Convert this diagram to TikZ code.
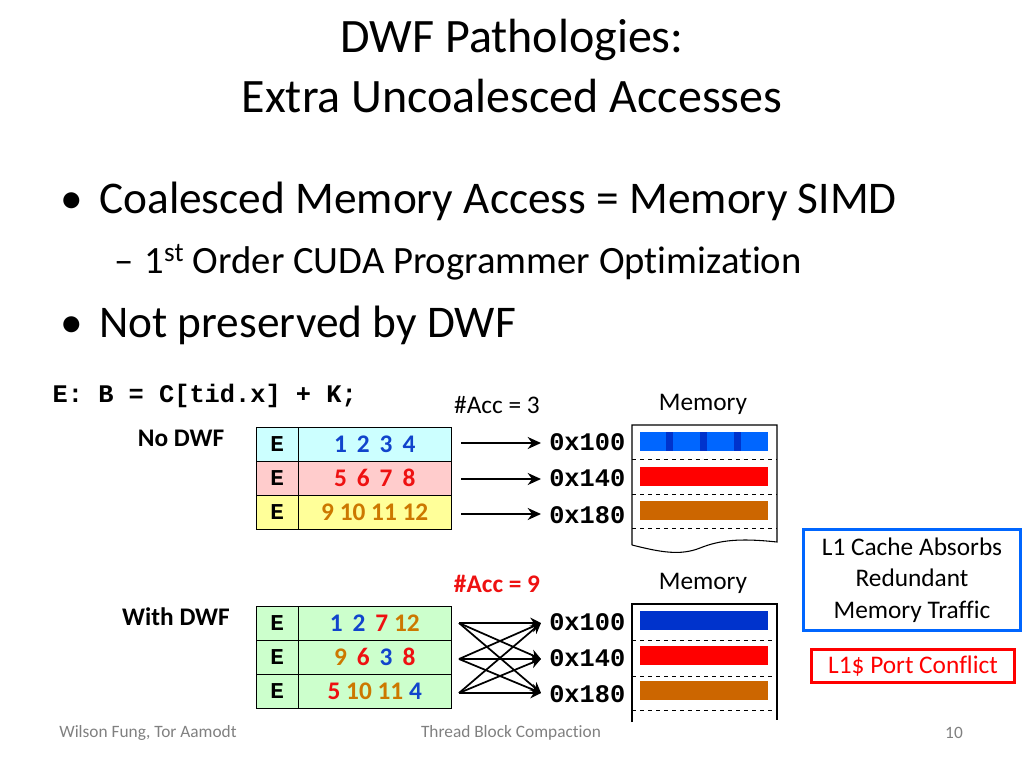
\documentclass[tikz,border=0pt]{standalone}
\usepackage{fontspec}
\setmainfont{Carlito}[RawFeature=-liga]
\newfontfamily\mono{Liberation Mono}
\usetikzlibrary{arrows.meta}
\definecolor{cblue}{RGB}{17,68,204}
\definecolor{cred}{RGB}{238,17,17}
\definecolor{corg}{RGB}{204,120,0}
\definecolor{bblue}{RGB}{0,102,255}
\definecolor{dblue}{RGB}{0,51,204}
\definecolor{bred}{RGB}{255,0,0}
\definecolor{borg}{RGB}{204,102,0}
\definecolor{fcyan}{RGB}{204,255,255}
\definecolor{fpink}{RGB}{255,204,204}
\definecolor{fyel}{RGB}{255,255,153}
\definecolor{fgrn}{RGB}{204,255,204}
\begin{document}
\begin{tikzpicture}[x=0.75pt,y=-0.75pt,
  cell/.style={draw,inner sep=0,minimum height=25.5pt,anchor=north west},
  ecell/.style={cell,minimum width=31.5pt,font=\mono\bfseries\fontsize{17}{17}\selectfont},
  ncell/.style={cell,minimum width=114.75pt,font=\bfseries\fontsize{19}{19}\selectfont},
  addr/.style={font=\mono\bfseries\fontsize{19}{19}\selectfont,inner sep=0},
  lab/.style={font=\fontsize{19}{19}\selectfont},
  arr/.style={-{Stealth[length=10pt,width=9pt]},line width=1.5pt},
  xarr/.style={-{Stealth[length=8pt,width=8pt]},line width=1.3pt},
  dl/.style={dashed,line width=0.6pt}]
\useasboundingbox (0,0) rectangle (1024,768);
\node (t1) at (512,40) {\fontsize{36}{36}\selectfont DWF Pathologies:};
\node (t2) at (512,96) {\fontsize{36}{36}\selectfont Extra Uncoalesced Accesses};
\node[anchor=west] (b1) at (56,201) {\fontsize{34}{34}\selectfont •\hspace{12pt}Coalesced Memory Access = Memory SIMD};
\node[anchor=west] (s1) at (110,262) {\fontsize{29}{29}\selectfont –\hspace{8pt}1\textsuperscript{st} Order CUDA Programmer Optimization};
\node[anchor=west] (b2) at (56,325) {\fontsize{34}{34}\selectfont •\hspace{12pt}Not preserved by DWF};
\node[anchor=west] (code) at (48,396) {\mono\bfseries\fontsize{19}{19}\selectfont E: B = C[tid.x] + K;};
\node[lab] (acc1) at (497,405) {\#Acc = 3};
\node[lab] (m1) at (703,404) {Memory};
\node[lab] (nd) at (181,438) {\bfseries No DWF};
% table 1
\node[ecell,fill=fcyan] (e1) at (256,427) {E};
\node[ncell,fill=fcyan] (n1) at (298,427) {\color{cblue}1\, 2\, 3\, 4};
\node[ecell,fill=fpink] (e2) at (256,461) {E};
\node[ncell,fill=fpink] (n2) at (298,461) {\color{cred}5\, 6\, 7\, 8};
\node[ecell,fill=fyel] (e3) at (256,495) {E};
\node[ncell,fill=fyel] (n3) at (298,495) {\color{corg}9 10 11 12};
\node[addr,anchor=west] (a1) at (549,442) {0x100};
\node[addr,anchor=west] (a2) at (549,478) {0x140};
\node[addr,anchor=west] (a3) at (549,515) {0x180};
\coordinate (l1) at (461,443); \coordinate (l2) at (461,479); \coordinate (l3) at (461,514);
\coordinate (r1) at (541,443); \coordinate (r2) at (541,479); \coordinate (r3) at (541,514);
\draw[arr] (l1) -- (r1);
\draw[arr] (l2) -- (r2);
\draw[arr] (l3) -- (r3);
% memory 1
\draw[line width=0.8pt] (632,545) -- (632,425) -- (777,425) -- (777,542) .. controls (740,538) and (720,540) .. (700,548) .. controls (680,556) and (660,552) .. (632,545);
\draw[dl] (632,459) -- (777,459); \draw[dl] (632,494) -- (777,494); \draw[dl] (632,528) -- (777,528);
\fill[bblue] (640,432) rectangle (768,451);
\fill[dblue] (666,432) rectangle (673,451); \fill[dblue] (700,432) rectangle (707,451); \fill[dblue] (734,432) rectangle (741,451);
\fill[bred] (640,467) rectangle (768,486);
\fill[borg] (640,501) rectangle (768,520);
% second
\node[lab] (acc2) at (497,584) {\bfseries\color{cred}\#Acc = 9};
\node[lab] (m2) at (703,583) {Memory};
\node[lab] (wd) at (176,617) {\bfseries With DWF};
\node[ecell,fill=fgrn] (f1) at (256,606) {E};
\node[ncell,fill=fgrn] (g1) at (298,606) {\color{cblue}1\, 2\, \color{cred}7 \color{corg}12};
\node[ecell,fill=fgrn] (f2) at (256,640) {E};
\node[ncell,fill=fgrn] (g2) at (298,640) {\color{corg}9\, \color{cred}6\, \color{cblue}3\, \color{cred}8};
\node[ecell,fill=fgrn] (f3) at (256,674) {E};
\node[ncell,fill=fgrn] (g3) at (298,674) {\color{cred}5 \color{corg}10 11 \color{cblue}4};
\node[addr,anchor=west] (c1) at (549,622) {0x100};
\node[addr,anchor=west] (c2) at (549,658) {0x140};
\node[addr,anchor=west] (c3) at (549,694) {0x180};
\coordinate (k1) at (459,623); \coordinate (k2) at (459,659); \coordinate (k3) at (459,693);
\coordinate (q1) at (541,623); \coordinate (q2) at (541,659); \coordinate (q3) at (541,693);
\foreach \s in {k1,k2,k3}{\foreach \t in {q1,q2,q3}{\draw[xarr] (\s) -- (\t);}}
\draw[line width=0.8pt] (632,722) -- (632,604) -- (777,604) -- (777,720);
\draw[dl] (632,640) -- (777,640); \draw[dl] (632,676) -- (777,676); \draw[dl] (632,710) -- (777,710);
\fill[dblue] (640,611) rectangle (768,630);
\fill[bred] (640,646) rectangle (768,665);
\fill[borg] (640,681) rectangle (768,700);
% side boxes
\node[draw=bblue,line width=2.2pt,minimum width=163pt,minimum height=76pt,align=center,font=\fontsize{19}{23.5}\selectfont] (l1c) at (912,580) {L1 Cache Absorbs\\Redundant\\Memory Traffic};
\node[draw=bred,line width=1.8pt,minimum width=152pt,minimum height=25pt,font=\fontsize{19}{19}\selectfont,text=bred] (pc) at (913,666) {L1\$ Port Conflict};
% footer
\node[text=gray] (f1t) at (148,733) {\fontsize{13}{13}\selectfont Wilson Fung, Tor Aamodt};
\node[text=gray] (f2t) at (511,733) {\fontsize{13}{13}\selectfont Thread Block Compaction};
\node[text=gray] (f3t) at (954,733) {\fontsize{13}{13}\selectfont 10};
\end{tikzpicture}
\end{document}
